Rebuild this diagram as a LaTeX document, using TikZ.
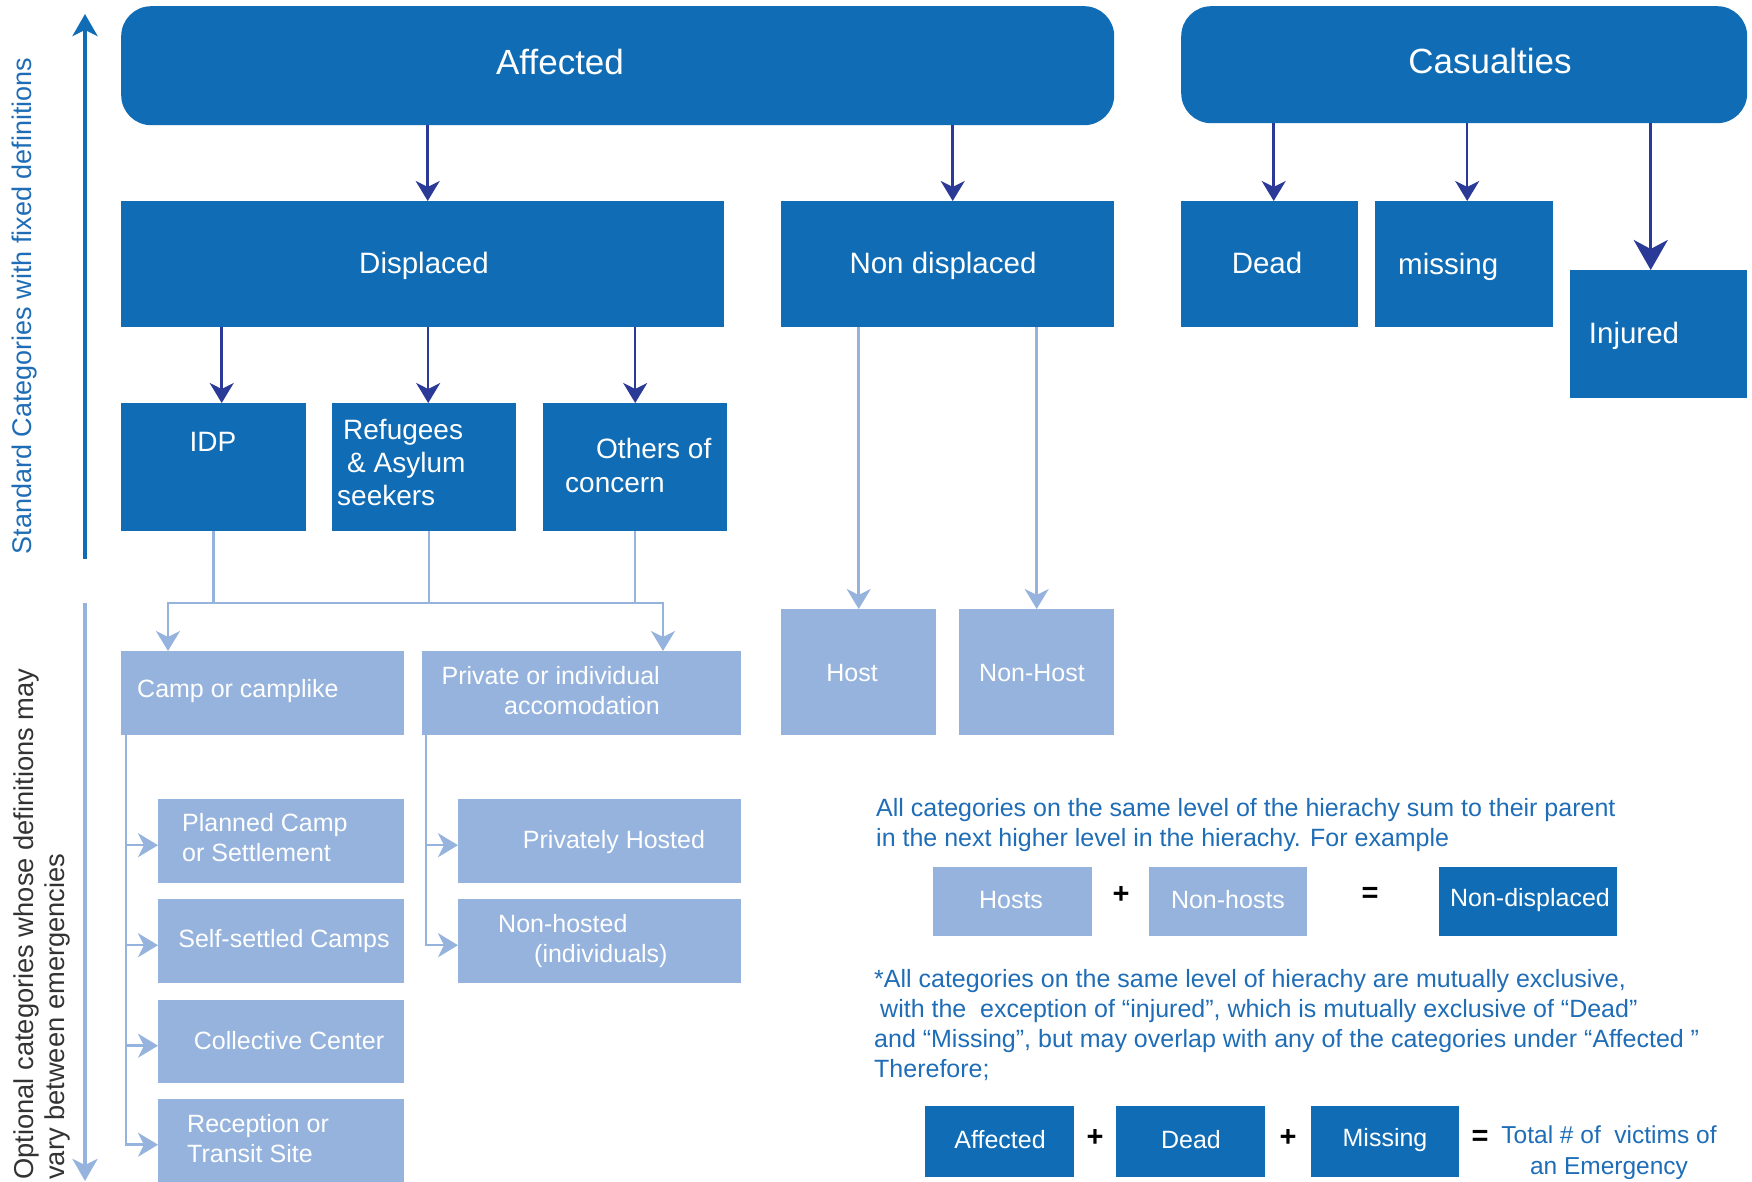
\documentclass[tikz,border=0pt]{standalone}
\usepackage{fontspec}
\setmainfont{Liberation Sans}
\usetikzlibrary{arrows.meta,calc}
\definecolor{dblue}{HTML}{0F6CB5}
\definecolor{lblue}{HTML}{95B3DD}
\definecolor{navy}{HTML}{2B3A96}
\definecolor{tblue}{HTML}{1F6DB6}
\definecolor{gtext}{HTML}{333333}
\begin{document}
\begin{tikzpicture}[x=1pt,y=-1pt,
  dbox/.style={fill=dblue, draw=none, text=white, inner sep=0pt, anchor=north west},
  lbox/.style={fill=lblue, draw=none, text=white, inner sep=0pt, anchor=north west},
  wtxt/.style={text=white, inner sep=0pt},
  fA/.style={font=\fontsize{35}{40}\selectfont},
  fB/.style={font=\fontsize{29.5}{34}\selectfont},
  fC/.style={font=\fontsize{28}{33}\selectfont},
  fD/.style={font=\fontsize{25}{30}\selectfont},
  fS/.style={font=\fontsize{27}{31}\selectfont},
  fO/.style={font=\fontsize{29}{30}\selectfont},
  darrow/.style={draw=navy, line width=2.5pt, -{Stealth[length=20pt,width=24pt,inset=6pt]}},
  bigarrow/.style={draw=navy, line width=3.5pt, -{Stealth[length=30pt,width=34pt,inset=9pt]}},
  lline/.style={draw=lblue, line width=2.5pt},
  larrow/.style={draw=lblue, line width=2.5pt, -{Stealth[length=20pt,width=24pt,inset=6pt]}},
  sidedark/.style={draw=dblue, line width=3.5pt, -{Stealth[length=22pt,width=25pt,inset=6pt]}},
  sidelight/.style={draw=lblue, line width=3.5pt, -{Stealth[length=22pt,width=25pt,inset=6pt]}},
  optext/.style={text=black, inner sep=0pt},
  note/.style={text=tblue, inner sep=0pt, align=left, font=\fontsize{25}{30}\selectfont},
]
\useasboundingbox (0,0) rectangle (1752,1182);

% ---------- top level ----------
\node[dbox, rounded corners=30pt, minimum width=993pt, minimum height=119pt] (affected) at (121,6) {};
\node[wtxt, fA] (affected-t) at (560,62) {Affected};
\node[dbox, rounded corners=30pt, minimum width=566pt, minimum height=117pt] (casualties) at (1181,6) {};
\node[wtxt, fA] (casualties-t) at (1490,61) {Casualties};

% ---------- second level ----------
\node[dbox, minimum width=603pt, minimum height=126pt] (displaced) at (121,201) {};
\node[wtxt, fB] (displaced-t) at (424,266) {Displaced};
\node[dbox, minimum width=333pt, minimum height=126pt] (nondisp) at (781,201) {};
\node[wtxt, fB] (nondisp-t) at (943,266) {Non displaced};
\node[dbox, minimum width=177pt, minimum height=126pt] (dead) at (1181,201) {};
\node[wtxt, fB] (dead-t) at (1267,263) {Dead};
\node[dbox, minimum width=178pt, minimum height=126pt] (missing) at (1375,201) {};
\node[wtxt, fB, anchor=west] (missing-t) at (1398,267) {missing};
\node[dbox, minimum width=177pt, minimum height=128pt] (injured) at (1570,270) {};
\node[wtxt, fB] (injured-t) at (1634,336) {Injured};

% ---------- third level ----------
\node[dbox, minimum width=185pt, minimum height=128pt] (idp) at (121,403) {};
\node[wtxt, fC] (idp-t) at (213,442) {IDP};
\node[dbox, minimum width=184pt, minimum height=128pt] (ref) at (332,403) {};
\node[wtxt, fC, align=left, anchor=north west] (ref-t) at (337,419) {\hspace{6pt}Refugees\\\hspace{10pt}\& Asylum\\seekers};
\node[dbox, minimum width=184pt, minimum height=128pt] (others) at (543,403) {};
\node[wtxt, fC, align=left, anchor=north west, font=\fontsize{28}{34}\selectfont] (others-t) at (565,438) {\hspace{31pt}Others of\\concern};

% ---------- optional level ----------
\node[lbox, minimum width=283pt, minimum height=84pt] (camp) at (121,651) {};
\node[wtxt, fD, anchor=west] (camp-t) at (137,691) {Camp or camplike};
\node[lbox, minimum width=319pt, minimum height=84pt] (private) at (422,651) {};
\node[wtxt, fD, align=right, anchor=north east] (private-t) at (660,666) {Private or individual\\accomodation};
\node[lbox, minimum width=155pt, minimum height=126pt] (host) at (781,609) {};
\node[wtxt, fD] (host-t) at (852,673) {Host};
\node[lbox, minimum width=155pt, minimum height=126pt] (nonhost) at (959,609) {};
\node[wtxt, fD] (nonhost-t) at (1032,673) {Non-Host};

\node[lbox, minimum width=246pt, minimum height=84pt] (planned) at (158,799) {};
\node[wtxt, fD, align=left, anchor=north west] (planned-t) at (182,813) {Planned Camp\\or Settlement};
\node[lbox, minimum width=246pt, minimum height=84pt] (selfset) at (158,899) {};
\node[wtxt, fD] (selfset-t) at (284,941) {Self-settled Camps};
\node[lbox, minimum width=246pt, minimum height=83pt] (collective) at (158,1000) {};
\node[wtxt, fD] (collective-t) at (289,1041) {Collective Center};
\node[lbox, minimum width=246pt, minimum height=83pt] (reception) at (158,1099) {};
\node[wtxt, fD, align=left, anchor=north west] (reception-t) at (187,1114) {Reception or\\Transit Site};

\node[lbox, minimum width=283pt, minimum height=84pt] (privhost) at (458,799) {};
\node[wtxt, fD] (privhost-t) at (614,842) {Privately Hosted};
\node[lbox, minimum width=283pt, minimum height=84pt] (nonhosted) at (458,899) {};
\node[wtxt, fD, align=left, anchor=north west] (nonhosted-t) at (498,914) {Non-hosted\\\hspace{36pt}(individuals)};

% ---------- connectors ----------
\coordinate (dispin) at ($(displaced.north)+(5,0)$);
\draw[darrow] (affected.south -| dispin) -- (dispin);
\coordinate (ndin) at ($(nondisp.north)+(5,0)$);
\draw[darrow] (affected.south -| ndin) -- (ndin);
\coordinate (deadin) at ($(dead.north)+(4,0)$);
\draw[darrow] (casualties.south -| deadin) -- (deadin);
\coordinate (missin) at ($(missing.north)+(3,0)$);
\draw[darrow] (casualties.south -| missin) -- (missin);
\coordinate (injin) at ($(injured.north)+(-8,0)$);
\draw[bigarrow] (casualties.south -| injin) -- (injin);

\coordinate (idpin) at ($(idp.north)+(8,0)$);
\draw[darrow] (displaced.south -| idpin) -- (idpin);
\coordinate (refin) at ($(ref.north)+(4,0)$);
\draw[darrow] (displaced.south -| refin) -- (refin);
\draw[darrow] (displaced.south -| others.north) -- (others.north);

\coordinate (busL) at (168,603);
\coordinate (busR) at (663,603);
\coordinate (refout) at ($(ref.south)+(5,0)$);
\draw[lline] (idp.south |- busL) -- (others.south |- busL);
\draw[lline] (refout) -- (refout |- busL);
\draw[larrow] (idp.south) -- (idp.south |- busL) -- (busL) -- (busL |- camp.north);
\draw[larrow] (others.south) -- (others.south |- busR) -- (busR) -- (busR |- private.north);

\draw[larrow] (nondisp.south -| host.north) -- (host.north);
\draw[larrow] (nondisp.south -| nonhost.north) -- (nonhost.north);

\coordinate (cx) at ($(camp.south west)+(5,0)$);
\draw[larrow] (cx) |- ($(planned.west)+(0,4)$);
\draw[larrow] (cx) |- ($(selfset.west)+(0,4)$);
\draw[larrow] (cx) |- ($(collective.west)+(0,4)$);
\draw[larrow] (cx) |- ($(reception.west)+(0,4)$);

\coordinate (px) at ($(private.south west)+(4,0)$);
\draw[larrow] (px) |- ($(privhost.west)+(0,4)$);
\draw[larrow] (px) |- ($(nonhosted.west)+(0,4)$);

% ---------- side arrows and labels ----------
\coordinate (stdbot) at (85,559);
\coordinate (stdtop) at (85,14);
\draw[sidedark] (stdbot) -- (stdtop);
\coordinate (optop) at (85,603);
\coordinate (opbot) at (85,1181);
\draw[sidelight] (optop) -- (opbot);
\node[rotate=90, text=tblue, fS, inner sep=0pt] (stdtxt) at (25,306) {Standard Categories with fixed definitions};
\node[rotate=90, text=gtext, font=\fontsize{27.3}{31}\selectfont, inner sep=0pt, align=left, anchor=north west] (opttxt) at (14,1180) {Optional categories whose definitions may\\vary between emergencies};

% ---------- notes ----------
\node[note, anchor=north west] (note1) at (876,798) {All categories on the same level of the hierachy sum to their parent\\in the next higher level in the hierachy. For example};
\node[lbox, minimum width=159pt, minimum height=69pt] (hosts) at (933,867) {};
\node[wtxt, fD] (hosts-t) at (1011,900) {Hosts};
\node[optext, fO] (plus1) at (1121,895) {\textbf{+}};
\node[lbox, minimum width=158pt, minimum height=69pt] (nonhosts) at (1149,867) {};
\node[wtxt, fD] (nonhosts-t) at (1228,900) {Non-hosts};
\node[optext, fO] (eq1) at (1370,895) {\textbf{=}};
\node[dbox, minimum width=178pt, minimum height=69pt] (nondisp2) at (1439,867) {};
\node[wtxt, fD] (nondisp2-t) at (1530,900) {Non-displaced};

\node[note, anchor=north west] (note2) at (874,969) {*All categories on the same level of hierachy are mutually exclusive,\\\hspace{6pt}with the \ exception of “injured”, which is mutually exclusive of “Dead”\\and “Missing”, but may overlap with any of the categories under “Affected ”\\Therefore;};

\node[dbox, minimum width=149pt, minimum height=71pt] (affected2) at (925,1106) {};
\node[wtxt, fD] (affected2-t) at (1000,1140) {Affected};
\node[optext, fO] (plus2) at (1095,1138) {\textbf{+}};
\node[dbox, minimum width=149pt, minimum height=71pt] (dead2) at (1116,1106) {};
\node[wtxt, fD] (dead2-t) at (1191,1140) {Dead};
\node[optext, fO] (plus3) at (1288,1138) {\textbf{+}};
\node[dbox, minimum width=148pt, minimum height=71pt] (missing2) at (1311,1106) {};
\node[wtxt, fD] (missing2-t) at (1385,1140) {Missing};
\node[optext, fO] (eq2) at (1480,1138) {\textbf{=}};
\node[note, align=center, anchor=north, font=\fontsize{24.5}{31}\selectfont] (total) at (1609,1126) {Total \# of \ victims of\\an Emergency};
\end{tikzpicture}
\end{document}
